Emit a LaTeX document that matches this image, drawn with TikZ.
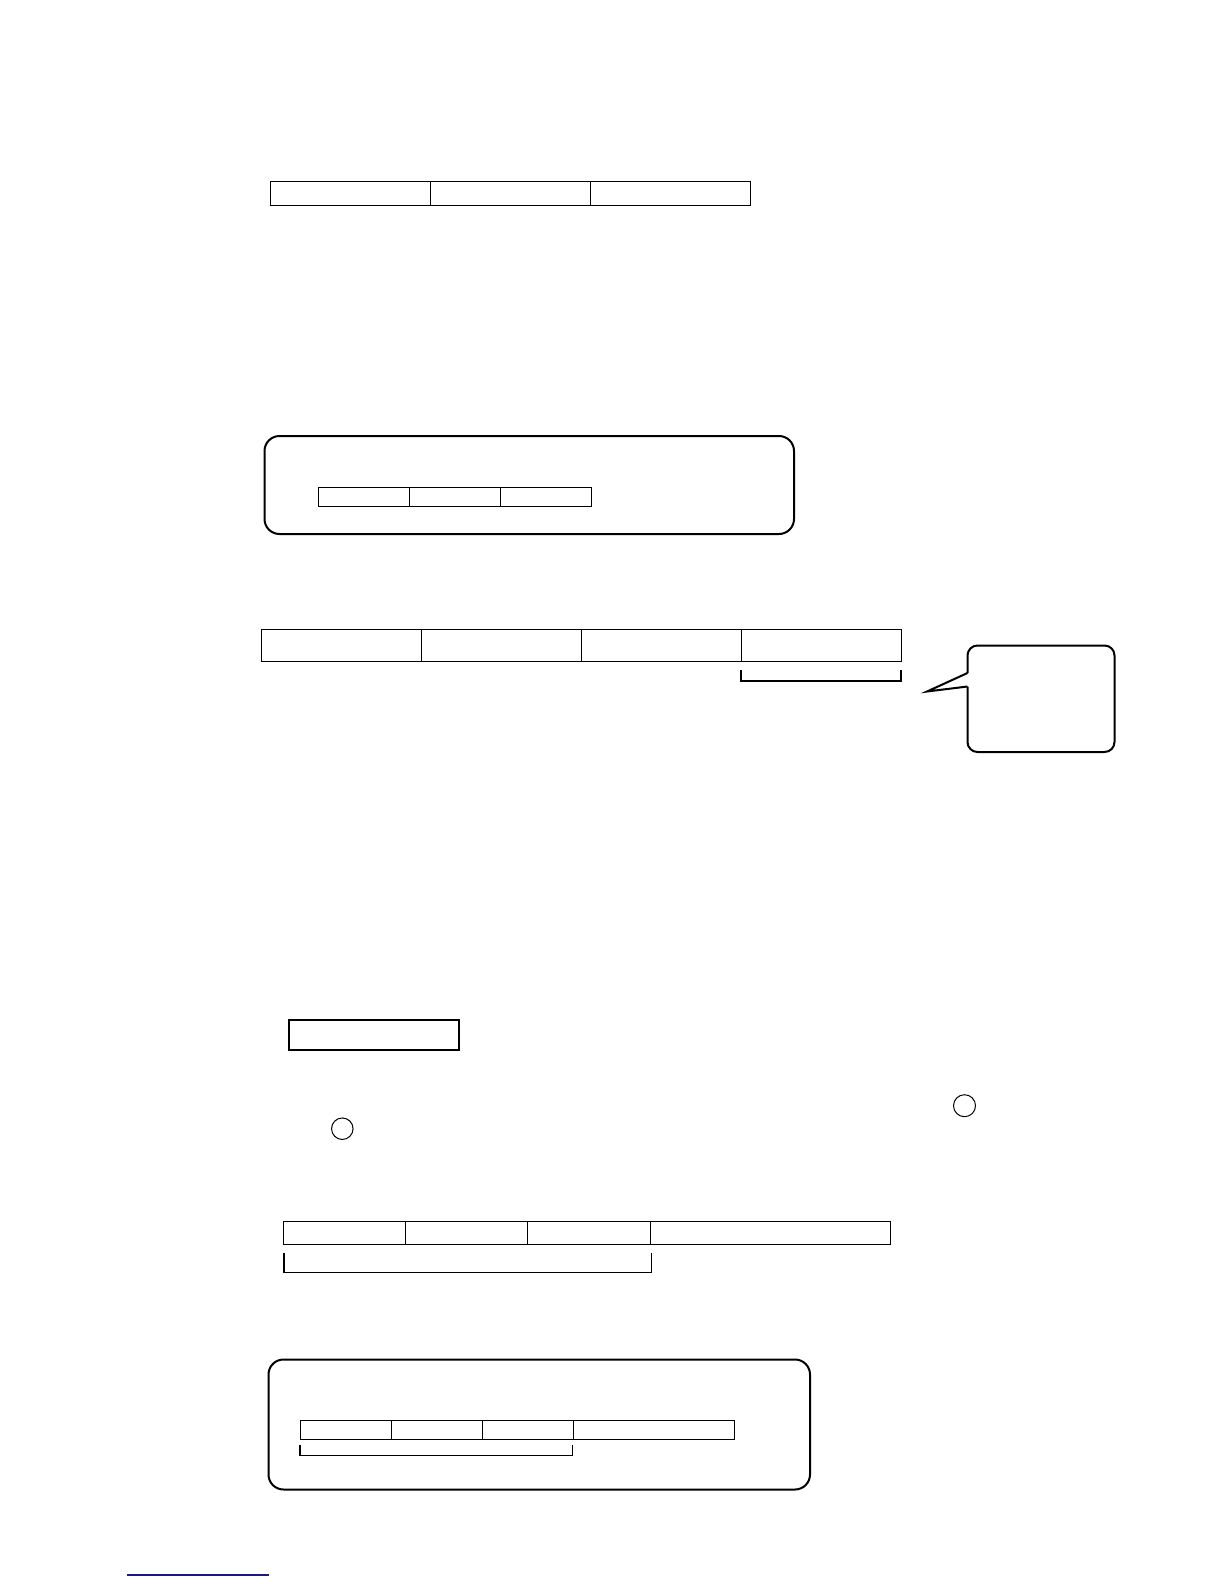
\documentclass[tikz,border=0pt]{standalone}
\usetikzlibrary{positioning}
\definecolor{navyline}{RGB}{25,25,130}
\begin{document}
\begin{tikzpicture}[x=1pt,y=-1pt,
  cell/.style={draw,line width=1.2pt,rectangle,inner sep=0pt,anchor=north west},
  rbox/.style={draw,line width=2pt,rounded corners=15pt},
  bracketline/.style={draw,line width=1.2pt},
  thickbox/.style={draw,line width=2.2pt,rectangle,inner sep=0pt,anchor=north west},
  ring/.style={draw,line width=1pt,circle,inner sep=0pt}]
\useasboundingbox (0,0) rectangle (1224,1584);
\fill[white] (0,0) rectangle (1224,1584);

% Row 1
\node[cell,minimum width=160pt,minimum height=24.5pt] (a1) at (269.5,180.5) {};
\node[cell,minimum width=160pt,minimum height=24.5pt] (a2) at (429.5,180.5) {};
\node[cell,minimum width=160pt,minimum height=24.5pt] (a3) at (589.5,180.5) {};

% Rounded box 2
\draw[rbox] (264.5,436) rectangle (794,534);
\node[cell,minimum width=91pt,minimum height=19pt] (b1) at (318,487) {};
\node[cell,minimum width=91pt,minimum height=19pt] (b2) at (409,487) {};
\node[cell,minimum width=91pt,minimum height=19pt] (b3) at (500,487) {};

% Row 3
\node[cell,minimum width=160pt,minimum height=32pt] (c1) at (260.5,628.5) {};
\node[cell,minimum width=160pt,minimum height=32pt] (c2) at (420.5,628.5) {};
\node[cell,minimum width=160pt,minimum height=32pt] (c3) at (580.5,628.5) {};
\node[cell,minimum width=160pt,minimum height=32pt] (c4) at (740.5,628.5) {};
\draw[bracketline] (741,670) -- (741,681) -- (901,681) -- (901,670);

% Callout
\coordinate (tipA) at (967.5,673);
\coordinate (tipB) at (967.5,686.5);
\coordinate (tip) at (927,691.5);
\draw[line width=2pt,rounded corners=10pt] (tipA) -- (967.5,645.5) -- (1114.5,645.5) -- (1114.5,752) -- (967.5,752) -- (tipB);
\draw[line width=2pt,line join=miter] (tipA) -- (tip) -- (tipB);

% Thick box
\node[thickbox,minimum width=170pt,minimum height=30.5pt] (d1) at (288,1018.5) {};

% Circles
\node[ring,minimum size=22pt] (e1) at (964.5,1105.7) {};
\node[ring,minimum size=21.5pt] (e2) at (342.3,1128.7) {};

% Row 6
\node[cell,minimum width=122pt,minimum height=23pt] (f1) at (283,1221) {};
\node[cell,minimum width=122pt,minimum height=23pt] (f2) at (405,1221) {};
\node[cell,minimum width=123pt,minimum height=23pt] (f3) at (527,1221) {};
\node[cell,minimum width=239.5pt,minimum height=23pt] (f4) at (650,1221) {};
\draw[bracketline] (284,1253) -- (284,1272.5) -- (651.5,1272.5) -- (651.5,1253);

% Rounded box 7
\draw[rbox] (268.5,1359.5) rectangle (810,1489.5);
\node[cell,minimum width=91pt,minimum height=18.5pt] (g1) at (299.5,1420) {};
\node[cell,minimum width=91pt,minimum height=18.5pt] (g2) at (390.5,1420) {};
\node[cell,minimum width=91pt,minimum height=18.5pt] (g3) at (481.5,1420) {};
\node[cell,minimum width=161pt,minimum height=18.5pt] (g4) at (572.5,1420) {};
\draw[bracketline] (300,1444.5) -- (300,1455.5) -- (572.5,1455.5) -- (572.5,1444.5);

% Bottom navy line
\draw[navyline,line width=1.2pt] (127,1575) -- (269,1575);
\end{tikzpicture}
\end{document}
